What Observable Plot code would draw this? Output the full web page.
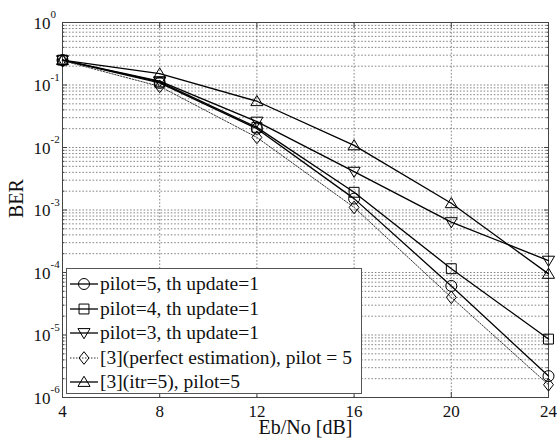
<!DOCTYPE html>
<html>
<head>
<meta charset="utf-8">
<script src="https://cdn.jsdelivr.net/npm/d3@7"></script>
<script src="https://cdn.jsdelivr.net/npm/@observablehq/plot@0.6"></script>
<style>
  html, body { margin: 0; padding: 0; background: #fff; }
  #wrap { position: relative; width: 557px; height: 441px; font-family: "Liberation Serif", "Times New Roman", serif; }
  #legend { position: absolute; left: 66px; top: 268px; width: 296px; height: 126px; background: #fff; border: 1px solid #555; box-sizing: border-box; }
  .row { position: absolute; left: 0; height: 24px; display: flex; align-items: center; font-family: "Liberation Serif", "Times New Roman", serif; font-size: 19.5px; color: #111; white-space: nowrap; }
  .row svg { display: block; margin-right: 1px; }
</style>
</head>
<body>
<div id="wrap"><div id="chart"></div><div id="legend"></div></div>
<script>
// ---- data ----
const ebno = [4, 8, 12, 16, 20, 24];
const pilot5 = [0.25, 0.108, 0.020, 0.00152, 6.1e-5, 2.2e-6];
const pilot4 = [0.25, 0.112, 0.021, 0.00192, 1.15e-4, 8.6e-6];
const pilot3 = [0.25, 0.115, 0.026, 0.0041, 6.4e-4, 1.55e-4];
const perfect = [0.245, 0.095, 0.0145, 0.0011, 4.0e-5, 1.6e-6];
const itr5 = [0.25, 0.152, 0.055, 0.0108, 0.00128, 9.5e-5];
const seriesNames = [
  "pilot=5, th update=1",
  "pilot=4, th update=1",
  "pilot=3, th update=1",
  "[3](perfect estimation), pilot = 5",
  "[3](itr=5), pilot=5"
];
const xTicks = [4, 8, 12, 16, 20, 24];
const yExponents = [0, -1, -2, -3, -4, -5, -6];

const SERIF = "'Liberation Serif', 'Times New Roman', serif";

// ---- symbols ----
const poly = (pts) => ({
  draw(ctx, size) {
    const s = Math.sqrt(size / Math.PI);
    ctx.moveTo(pts[0][0] * s, pts[0][1] * s);
    for (let i = 1; i < pts.length; ++i) ctx.lineTo(pts[i][0] * s, pts[i][1] * s);
    ctx.closePath();
  }
});
const symCircle = d3.symbolCircle;
const symSquare = poly([[-0.9, -0.9], [0.9, -0.9], [0.9, 0.9], [-0.9, 0.9]]);
const symTriDown = poly([[0, 1.05], [1.1, -0.8], [-1.1, -0.8]]);
const symDiamond = poly([[0, -1.15], [0.9, 0], [0, 1.15], [-0.9, 0]]);
const symTriUp = poly([[0, -1.05], [1.1, 0.8], [-1.1, 0.8]]);

const series = [
  {name: seriesNames[0], values: pilot5, sym: symCircle, dash: null, width: 1.3, color: "#000"},
  {name: seriesNames[1], values: pilot4, sym: symSquare, dash: null, width: 1.3, color: "#000"},
  {name: seriesNames[2], values: pilot3, sym: symTriDown, dash: null, width: 1.3, color: "#000"},
  {name: seriesNames[3], values: perfect, sym: symDiamond, dash: "1.5,1.5", width: 1, color: "#333"},
  {name: seriesNames[4], values: itr5, sym: symTriUp, dash: null, width: 1.3, color: "#000"}
];

const yMajor = yExponents.map(e => Math.pow(10, e));
const yMinor = [];
for (const e of yExponents.slice(1)) for (let m = 2; m <= 9; ++m) yMinor.push(m * Math.pow(10, e));
const xInner = xTicks.slice(1, -1);

const gridStyle = {stroke: "#555", strokeWidth: 0.8, strokeDasharray: "1.6,1.8", strokeOpacity: 0.9};
const tickStyle = {tickFormat: () => "", stroke: "#444", label: null};

const marks = [
  Plot.ruleY(yMinor, {y: d => d, ...gridStyle}),
  Plot.ruleY(yMajor.slice(1, -1), {y: d => d, ...gridStyle}),
  Plot.ruleX(xInner, {x: d => d, ...gridStyle}),
  // inward ticks
  Plot.axisY(yMajor, {anchor: "left", tickSize: -5, ...tickStyle}),
  Plot.axisY(yMinor, {anchor: "left", tickSize: -2.5, ...tickStyle}),
  Plot.axisY(yMajor, {anchor: "right", tickSize: -5, ...tickStyle}),
  Plot.axisY(yMinor, {anchor: "right", tickSize: -2.5, ...tickStyle}),
  Plot.axisX(xTicks, {anchor: "top", tickSize: -5, ...tickStyle}),
  Plot.axisX(xTicks, {anchor: "bottom", tickSize: -5, ...tickStyle}),
  // x tick labels
  Plot.axisX(xTicks, {anchor: "bottom", tickSize: 0, tickPadding: 7, fontSize: 17, fontFamily: SERIF, fill: "#111", label: null}),
  // y tick labels: "10" with raised exponent
  Plot.text(yExponents, {y: e => Math.pow(10, e), frameAnchor: "left", text: () => "10", textAnchor: "end", dx: -12, dy: 1, fontSize: 17, fontFamily: SERIF, fill: "#111"}),
  Plot.text(yExponents, {y: e => Math.pow(10, e), frameAnchor: "left", text: e => String(e), textAnchor: "start", dx: -12, dy: -8, fontSize: 11, fontFamily: SERIF, fill: "#111"}),
  // axis titles
  Plot.text(["Eb/No [dB]"], {frameAnchor: "bottom", lineAnchor: "middle", dy: 30, fontSize: 20, fontFamily: SERIF, fill: "#111"}),
  Plot.text(["BER"], {frameAnchor: "left", lineAnchor: "middle", rotate: -90, dx: -46, dy: 8, fontSize: 20, fontFamily: SERIF, fill: "#111"}),
  Plot.frame({stroke: "#444", strokeWidth: 1})
];

for (const s of series) {
  const data = ebno.map((x, i) => ({x, y: s.values[i]}));
  marks.push(Plot.line(data, {x: "x", y: "y", stroke: s.color, strokeWidth: s.width, strokeDasharray: s.dash}));
  marks.push(Plot.dot(data, {x: "x", y: "y", symbol: () => s.sym, r: 5.5, stroke: "#000", strokeWidth: 1, fill: "none"}));
}

const chart = Plot.plot({
  width: 557,
  height: 441,
  marginLeft: 62,
  marginRight: 9,
  marginTop: 22,
  marginBottom: 44,
  style: {fontFamily: SERIF, background: "#fff"},
  x: {domain: [4, 24], axis: null},
  y: {type: "log", domain: [1e-6, 1], axis: null},
  symbol: {type: "identity"},
  marks
});
document.getElementById("chart").appendChild(chart);

// ---- legend overlay ----
const legend = d3.select("#legend");
series.forEach((s, i) => {
  const row = legend.append("div").attr("class", "row").style("top", (3 + i * 24.6) + "px").style("left", "2px");
  const svg = row.append("svg").attr("width", 30).attr("height", 20);
  svg.append("line").attr("x1", 1).attr("x2", 29).attr("y1", 10).attr("y2", 10)
    .attr("stroke", s.color).attr("stroke-width", s.width).attr("stroke-dasharray", s.dash);
  svg.append("path").attr("transform", "translate(15,10)")
    .attr("d", d3.symbol(s.sym, Math.PI * 5.5 * 5.5)())
    .attr("fill", "none").attr("stroke", "#000").attr("stroke-width", 1);
  row.append("span").text(s.name);
});
</script>
</body>
</html>
